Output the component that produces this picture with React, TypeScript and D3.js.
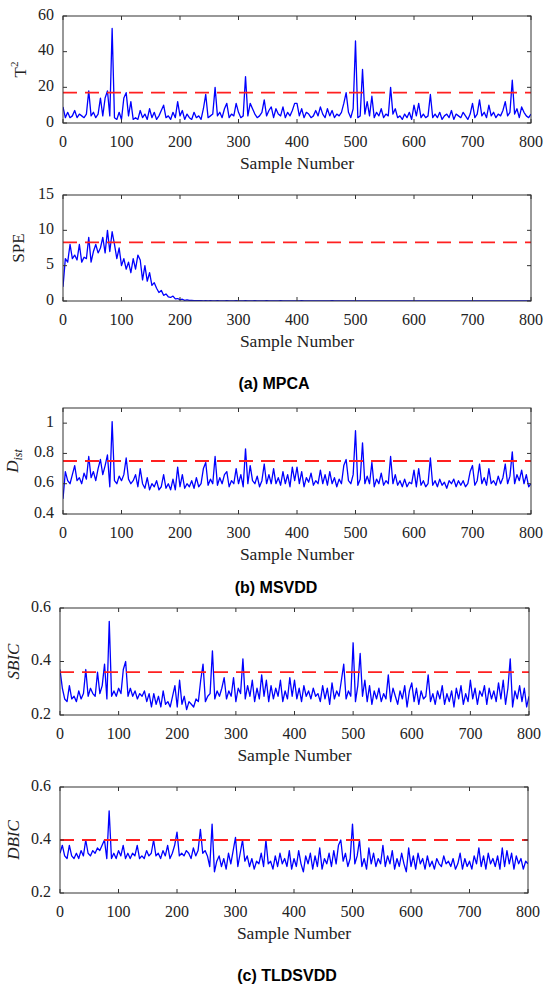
import React from "react";
import * as d3 from "d3";

// sample numbers on the x axis (every 4th sample)
const sampleNumbers = d3.range(0, 801, 4);
const xTicks = [0, 100, 200, 300, 400, 500, 600, 700, 800];

// MPCA T^2 statistic
const t2Values = [
  9, 3, 6, 3, 4, 7, 3, 5, 4, 3,
  5, 18, 4, 6, 3, 5, 14, 4, 14, 18,
  4, 53, 3, 2, 6, 2, 14, 17, 4, 12,
  2, 3, 2, 7, 3, 5, 2, 8, 3, 6,
  2, 4, 7, 10, 3, 4, 2, 6, 3, 12,
  4, 7, 2, 5, 3, 2, 6, 3, 4, 2,
  8, 16, 3, 4, 5, 20, 4, 6, 3, 8,
  11, 3, 5, 4, 11, 6, 3, 4, 26, 4,
  11, 8, 5, 3, 4, 6, 13, 4, 7, 9,
  3, 8, 5, 4, 9, 3, 6, 4, 7, 11,
  11, 4, 8, 3, 6, 5, 3, 4, 7, 4,
  9, 5, 3, 8, 4, 7, 3, 5, 4, 6,
  11, 17, 6, 3, 8, 46, 3, 4, 30, 5,
  12, 4, 15, 3, 6, 4, 8, 3, 5, 4,
  20, 5, 8, 3, 4, 2, 5, 3, 6, 2,
  10, 4, 11, 3, 5, 3, 4, 16, 3, 5,
  3, 6, 2, 4, 5, 3, 7, 2, 5, 4,
  3, 6, 4, 2, 5, 11, 3, 5, 13, 4,
  6, 3, 10, 4, 6, 3, 5, 4, 7, 12,
  4, 6, 24, 5, 8, 3, 9, 6, 4, 3,
  5,
];

// MPCA SPE statistic
const speValues = [
  2, 6, 5.5, 8, 6, 6.5, 5.8, 8, 5.5, 6.2,
  6, 9, 5.5, 7, 8, 6.8, 7.5, 9, 6.8, 10,
  7, 9.8, 8, 6, 7.5, 5, 6, 4.5, 5.5, 4,
  6, 4.5, 6.5, 5.8, 3, 5, 2.8, 4, 2.2, 2.6,
  1.8, 1.2, 1.5, 0.8, 1, 0.6, 0.5, 0.7, 0.3, 0.35,
  0.2, 0.25, 0.1, 0.15, 0.08, 0.1, 0.06, 0.05, 0.04, 0.05,
  0.03, 0.05, 0.02, 0.04, 0.03, 0.02, 0.04, 0.03, 0.02, 0.03,
  0.04, 0.02, 0.03, 0.02, 0.04, 0.03, 0.02, 0.03, 0.04, 0.02,
  0.03, 0.02, 0.04, 0.03, 0.02, 0.03, 0.02, 0.04, 0.02, 0.03,
  0.02, 0.03, 0.02, 0.04, 0.03, 0.02, 0.03, 0.02, 0.03, 0.02,
  0.03, 0.02, 0.04, 0.02, 0.03, 0.02, 0.03, 0.02, 0.03, 0.02,
  0.02, 0.03, 0.02, 0.03, 0.02, 0.04, 0.02, 0.03, 0.02, 0.03,
  0.02, 0.03, 0.02, 0.03, 0.02, 0.03, 0.02, 0.02, 0.03, 0.02,
  0.03, 0.02, 0.03, 0.02, 0.02, 0.03, 0.02, 0.03, 0.02, 0.02,
  0.03, 0.02, 0.02, 0.03, 0.02, 0.03, 0.02, 0.02, 0.03, 0.02,
  0.02, 0.03, 0.02, 0.02, 0.03, 0.02, 0.02, 0.03, 0.02, 0.02,
  0.03, 0.02, 0.02, 0.03, 0.02, 0.02, 0.03, 0.02, 0.02, 0.03,
  0.02, 0.02, 0.03, 0.02, 0.02, 0.03, 0.02, 0.02, 0.03, 0.02,
  0.02, 0.03, 0.02, 0.02, 0.03, 0.02, 0.02, 0.03, 0.02, 0.02,
  0.03, 0.02, 0.02, 0.03, 0.02, 0.02, 0.03, 0.02, 0.02, 0.03,
  0.02,
];

// MSVDD distance
const distValues = [
  0.5, 0.68, 0.62, 0.6, 0.66, 0.72, 0.62, 0.64, 0.6, 0.67,
  0.63, 0.78, 0.64, 0.68, 0.62, 0.7, 0.76, 0.66, 0.72, 0.79,
  0.58, 1.01, 0.62, 0.6, 0.65, 0.62, 0.66, 0.77, 0.63, 0.6,
  0.62, 0.66, 0.58, 0.7, 0.6, 0.57, 0.64, 0.56, 0.6, 0.58,
  0.62, 0.56, 0.58, 0.66, 0.57, 0.6, 0.56, 0.63, 0.56, 0.71,
  0.58, 0.66, 0.57, 0.6, 0.58, 0.62, 0.57, 0.64, 0.58, 0.6,
  0.7, 0.74, 0.59, 0.63, 0.6, 0.78, 0.59, 0.64, 0.6, 0.66,
  0.68, 0.58, 0.62, 0.6, 0.7, 0.6, 0.66, 0.58, 0.83, 0.6,
  0.72, 0.62, 0.6, 0.65, 0.58, 0.62, 0.73, 0.6, 0.66, 0.6,
  0.7, 0.6, 0.64, 0.59, 0.68, 0.6, 0.66, 0.58, 0.71, 0.62,
  0.71, 0.6, 0.68, 0.58, 0.64, 0.61, 0.67, 0.59, 0.62, 0.6,
  0.69, 0.6, 0.66, 0.59, 0.68, 0.6, 0.64, 0.58, 0.63, 0.6,
  0.72, 0.76, 0.62, 0.6, 0.66, 0.95, 0.59, 0.63, 0.87, 0.6,
  0.65, 0.6, 0.74, 0.58, 0.63, 0.6, 0.67, 0.59, 0.62, 0.6,
  0.78, 0.6, 0.66, 0.59, 0.62, 0.58, 0.63, 0.58, 0.61, 0.6,
  0.69, 0.58, 0.7, 0.59, 0.62, 0.58, 0.6, 0.77, 0.59, 0.62,
  0.58, 0.63, 0.59, 0.61, 0.57, 0.62, 0.6, 0.63, 0.58, 0.62,
  0.59, 0.62, 0.58, 0.6, 0.68, 0.72, 0.59, 0.62, 0.73, 0.6,
  0.64, 0.59, 0.7, 0.6, 0.62, 0.59, 0.65, 0.6, 0.64, 0.73,
  0.6, 0.65, 0.81, 0.6, 0.66, 0.62, 0.69, 0.6, 0.66, 0.58,
  0.6,
];

// TLDSVDD SBIC
const sbicValues = [
  0.37, 0.3, 0.26, 0.25, 0.31, 0.26, 0.27, 0.25, 0.29, 0.26,
  0.28, 0.37, 0.27, 0.3, 0.28, 0.27, 0.36, 0.28, 0.31, 0.39,
  0.26, 0.55, 0.27, 0.29, 0.27, 0.3, 0.28, 0.37, 0.4, 0.27,
  0.3, 0.27, 0.29, 0.26, 0.28, 0.27, 0.29, 0.25, 0.28, 0.23,
  0.28, 0.24, 0.27, 0.23, 0.29, 0.24, 0.25, 0.23, 0.27, 0.31,
  0.23, 0.33, 0.24, 0.27, 0.22, 0.25, 0.24, 0.23, 0.26, 0.25,
  0.33, 0.39, 0.25, 0.27, 0.28, 0.44, 0.26, 0.29, 0.27, 0.3,
  0.34, 0.26, 0.29, 0.27, 0.34, 0.25, 0.3, 0.28, 0.41, 0.26,
  0.31, 0.27, 0.33, 0.25, 0.3, 0.26, 0.35, 0.27, 0.33, 0.25,
  0.31, 0.26, 0.3, 0.27, 0.33, 0.25, 0.29, 0.26, 0.34, 0.27,
  0.33, 0.26, 0.3, 0.25, 0.31, 0.27, 0.29, 0.26, 0.3, 0.27,
  0.28, 0.25, 0.31, 0.26, 0.3, 0.24, 0.32, 0.26, 0.29, 0.27,
  0.33, 0.39, 0.26, 0.29, 0.27, 0.47, 0.25, 0.31, 0.43, 0.27,
  0.33, 0.25, 0.31, 0.24, 0.29, 0.26, 0.3, 0.25, 0.28, 0.26,
  0.35, 0.25, 0.3, 0.27, 0.24, 0.29, 0.26, 0.31, 0.23, 0.29,
  0.32, 0.25, 0.3, 0.24, 0.29, 0.26, 0.27, 0.35, 0.25, 0.28,
  0.24, 0.29, 0.26, 0.31, 0.24, 0.28, 0.25, 0.29, 0.23, 0.3,
  0.26, 0.31, 0.24, 0.28, 0.25, 0.33, 0.26, 0.3, 0.24, 0.29,
  0.27, 0.31, 0.24, 0.3, 0.26, 0.29, 0.25, 0.32, 0.26, 0.33,
  0.24, 0.3, 0.41, 0.23, 0.29, 0.26, 0.31, 0.25, 0.3, 0.23,
  0.27,
];

// TLDSVDD DBIC
const dbicValues = [
  0.35, 0.38, 0.34, 0.33, 0.38, 0.34, 0.33, 0.35, 0.33, 0.36,
  0.34, 0.4, 0.35, 0.34, 0.36, 0.35, 0.37, 0.36, 0.38, 0.4,
  0.33, 0.51, 0.33, 0.35, 0.33, 0.36, 0.34, 0.38, 0.33, 0.35,
  0.33, 0.35, 0.34, 0.38, 0.33, 0.34, 0.33, 0.36, 0.34, 0.35,
  0.4, 0.34, 0.35, 0.33, 0.36, 0.34, 0.38, 0.33, 0.35, 0.38,
  0.43, 0.34, 0.35, 0.34, 0.36, 0.35, 0.33, 0.37, 0.34, 0.36,
  0.44, 0.35, 0.36, 0.34, 0.3, 0.46, 0.28, 0.32, 0.34, 0.3,
  0.33, 0.29, 0.35, 0.31, 0.36, 0.41, 0.3, 0.35, 0.4, 0.32,
  0.34, 0.3, 0.33, 0.29, 0.32, 0.31, 0.35, 0.3, 0.4, 0.31,
  0.32, 0.29, 0.34, 0.3, 0.35, 0.31, 0.33, 0.3, 0.36, 0.29,
  0.33, 0.3, 0.36, 0.31, 0.28, 0.34, 0.31, 0.35, 0.29, 0.34,
  0.3, 0.37, 0.29, 0.33, 0.31, 0.35, 0.3, 0.36, 0.31, 0.38,
  0.4, 0.32, 0.35, 0.3, 0.33, 0.46, 0.31, 0.34, 0.4, 0.3,
  0.33, 0.29, 0.37, 0.31, 0.35, 0.3, 0.33, 0.31, 0.38, 0.3,
  0.34, 0.31, 0.36, 0.29, 0.33, 0.3, 0.35, 0.31, 0.28, 0.37,
  0.3, 0.34, 0.29, 0.35, 0.31, 0.33, 0.29, 0.34, 0.3, 0.32,
  0.29, 0.33, 0.31, 0.3, 0.34, 0.31, 0.32, 0.3, 0.33, 0.29,
  0.31, 0.35, 0.29, 0.33, 0.3, 0.32, 0.29, 0.34, 0.31, 0.37,
  0.3, 0.34, 0.29, 0.35, 0.31, 0.33, 0.3, 0.34, 0.29, 0.37,
  0.3, 0.36, 0.31, 0.35, 0.29, 0.34, 0.31, 0.33, 0.29, 0.32,
  0.31,
];

const panels = [
  { key: "t2", values: t2Values, domain: [0, 60], ticks: [0, 20, 40, 60], limit: 17,
    box: [63, 531, 16, 123], labelX: 22 },
  { key: "spe", values: speValues, domain: [0, 15], ticks: [0, 5, 10, 15], limit: 8.3,
    box: [63, 531, 195, 301], labelX: 20 },
  { key: "dist", values: distValues, domain: [0.4, 1.1], ticks: [0.4, 0.6, 0.8, 1], limit: 0.75,
    box: [63, 531, 408, 514], labelX: 14 },
  { key: "sbic", values: sbicValues, domain: [0.2, 0.6], ticks: [0.2, 0.4, 0.6], limit: 0.36,
    box: [60, 529, 608, 715], labelX: 15 },
  { key: "dbic", values: dbicValues, domain: [0.2, 0.6], ticks: [0.2, 0.4, 0.6], limit: 0.4,
    box: [60, 528, 787, 893], labelX: 15 },
];

const captions = [
  { text: "(a) MPCA", x: 274, y: 385 },
  { text: "(b) MSVDD", x: 276, y: 589 },
  { text: "(c) TLDSVDD", x: 287, y: 977 },
];

const serif = "'Liberation Serif', 'Times New Roman', serif";
const axisColor = "#333";

const YLabel = ({ k }) => {
  if (k === "t2") return <tspan>T<tspan dy={-7} fontSize={11}>2</tspan></tspan>;
  if (k === "spe") return <tspan>SPE</tspan>;
  if (k === "dist")
    return <tspan fontStyle="italic">D<tspan dy={5} fontSize={12}>ist</tspan></tspan>;
  if (k === "sbic") return <tspan fontStyle="italic">SBIC</tspan>;
  return <tspan fontStyle="italic">DBIC</tspan>;
};

const Panel = ({ p }) => {
  const [x0, x1, y0, y1] = p.box;
  const x = d3.scaleLinear().domain([0, 800]).range([x0, x1]);
  const y = d3.scaleLinear().domain(p.domain).range([y1, y0]);
  const line = d3.line<number>()
    .x((_, i) => x(sampleNumbers[i]))
    .y(d => y(d));
  const fmt = (v: number) => (v === 1 ? "1" : String(v));
  const midY = (y0 + y1) / 2;

  return (
    <g>
      <defs>
        <clipPath id={"clip-" + p.key}>
          <rect x={x0} y={y0} width={x1 - x0} height={y1 - y0} />
        </clipPath>
      </defs>
      <g clipPath={`url(#clip-${p.key})`}>
        <path d={line(p.values) || ""} fill="none" stroke="#0000ff" strokeWidth={1.3}
          strokeLinejoin="round" />
        <line x1={x0} x2={x1} y1={y(p.limit)} y2={y(p.limit)} stroke="#ff2020"
          strokeWidth={1.8} strokeDasharray="14 8" />
      </g>
      <rect x={x0} y={y0} width={x1 - x0} height={y1 - y0} fill="none"
        stroke={axisColor} strokeWidth={1} />
      {xTicks.map(t => (
        <g key={"x" + t}>
          <line x1={x(t)} x2={x(t)} y1={y1} y2={y1 - 4} stroke={axisColor} />
          <line x1={x(t)} x2={x(t)} y1={y0} y2={y0 + 4} stroke={axisColor} />
          <text x={x(t)} y={y1 + 20} textAnchor="middle" dominantBaseline="middle"
            fontFamily={serif} fontSize={16} fill="#222">{t}</text>
        </g>
      ))}
      {p.ticks.map(t => (
        <g key={"y" + t}>
          <line x1={x0} x2={x0 + 4} y1={y(t)} y2={y(t)} stroke={axisColor} />
          <line x1={x1} x2={x1 - 4} y1={y(t)} y2={y(t)} stroke={axisColor} />
          <text x={x0 - 9} y={y(t)} textAnchor="end" dominantBaseline="middle"
            fontFamily={serif} fontSize={16} fill="#222">{fmt(t)}</text>
        </g>
      ))}
      <text x={(x0 + x1) / 2} y={y1 + 42} textAnchor="middle" dominantBaseline="middle"
        fontFamily={serif} fontSize={17.5} fill="#222">Sample Number</text>
      <text transform={`translate(${p.labelX},${midY}) rotate(-90)`} textAnchor="middle"
        dominantBaseline="middle" fontFamily={serif} fontSize={17} fill="#222">
        <YLabel k={p.key} />
      </text>
    </g>
  );
};

export default function App() {
  return (
    <svg width={544} height={987} style={{ position: "absolute", left: 0, top: 0 }}>
      <rect width={544} height={987} fill="#fff" />
      {panels.map(p => <Panel key={p.key} p={p} />)}
      {captions.map(c => (
        <text key={c.text} x={c.x} y={c.y} textAnchor="middle" dominantBaseline="middle"
          fontFamily="'Liberation Sans', Arial, sans-serif" fontWeight="bold" fontSize={16}
          fill="#000">{c.text}</text>
      ))}
    </svg>
  );
}
